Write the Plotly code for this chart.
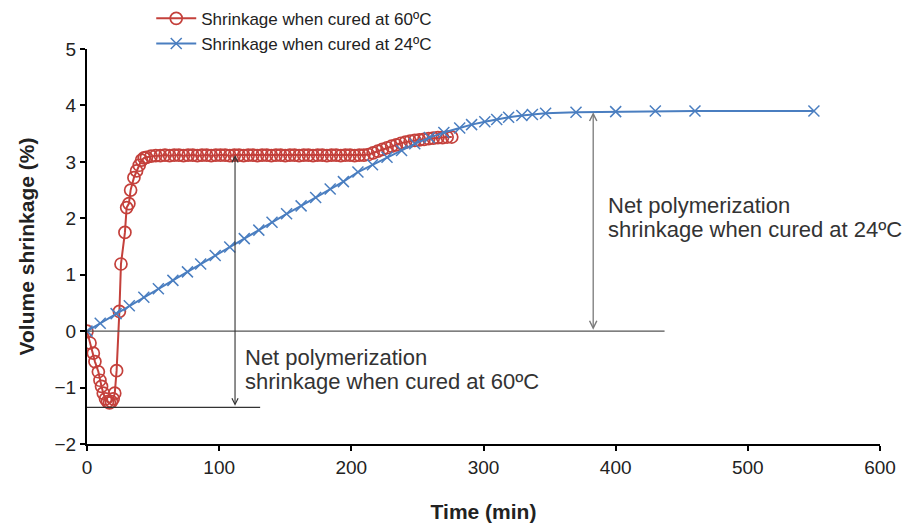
import plotly.graph_objects as go

# Shrinkage cured at 60 ºC (time in min, volume shrinkage in %)
t_60 = [0, 2.3, 4.8, 6.0, 8.6, 9.8, 11.0, 12.3, 14.0, 15.5, 17.0, 18.5, 19.8, 21.0,
        22.4, 24.5, 25.7, 28.7, 30.0, 31.7, 33.0, 35.5, 37.5, 39.5, 41.3, 43.2,
        45.0, 48.5, 52.0, 55.5, 59.0, 62.5, 66.0, 69.5, 73.0, 76.5, 80.0, 83.5,
        87.0, 90.5, 94.0, 97.5, 101.0, 104.5, 108.0, 111.5, 115.0, 118.5, 122.0,
        125.5, 129.0, 132.5, 136.0, 139.5, 143.0, 146.5, 150.0, 153.5, 157.0,
        160.5, 164.0, 167.5, 171.0, 174.5, 178.0, 181.5, 185.0, 188.5, 192.0,
        195.5, 199.0, 202.5, 206.0, 209.5, 213.0, 216.5, 220.0, 223.5, 227.0,
        230.5, 234.0, 237.5, 241.0, 244.5, 248.0, 251.5, 255.0, 258.5, 262.0,
        265.5, 269.0, 272.5, 276.0]
s_60 = [0.00, -0.21, -0.39, -0.54, -0.72, -0.87, -0.98, -1.10, -1.20, -1.25, -1.27,
        -1.25, -1.20, -1.10, -0.70, 0.35, 1.19, 1.75, 2.19, 2.26, 2.50, 2.72, 2.84,
        2.94, 3.03, 3.07,
        3.08, 3.10, 3.11, 3.11, 3.12, 3.11, 3.12, 3.12, 3.11, 3.12, 3.12, 3.11,
        3.12, 3.12, 3.11, 3.12, 3.12, 3.12, 3.11, 3.12, 3.12, 3.11, 3.12, 3.12,
        3.11, 3.12, 3.12, 3.11, 3.12, 3.12, 3.11, 3.12, 3.12, 3.11, 3.12, 3.12,
        3.11, 3.12, 3.12, 3.11, 3.12, 3.12, 3.11, 3.12, 3.12, 3.11, 3.12, 3.12,
        3.13, 3.16, 3.19, 3.22, 3.25, 3.28, 3.30, 3.33, 3.35, 3.37, 3.38, 3.39,
        3.40, 3.41, 3.42, 3.43, 3.43, 3.44, 3.44]

# Shrinkage cured at 24 ºC
t_24 = [0, 10, 22, 32, 43, 54, 65, 76, 86, 97, 108, 119, 130, 140, 151, 162, 173,
        184, 194, 205, 216, 227, 238, 248, 259, 270, 282, 291, 301, 310, 319, 329,
        337, 347, 370, 400, 430, 460, 550]
s_24 = [0.00, 0.14, 0.31, 0.45, 0.60, 0.75, 0.90, 1.05, 1.19, 1.34, 1.49, 1.64,
        1.79, 1.93, 2.08, 2.22, 2.37, 2.52, 2.65, 2.82, 2.95, 3.08, 3.20, 3.32,
        3.43, 3.52, 3.60, 3.66, 3.71, 3.75, 3.79, 3.82, 3.84, 3.86, 3.88, 3.89,
        3.90, 3.90, 3.90]

# Reference levels for the net-shrinkage arrows
base_60 = -1.35
plateau_60 = 3.12
plateau_24 = 3.88
arrow_t_60 = 112
arrow_t_24 = 383

label_60 = ["Net polymerization", "shrinkage when cured at 60ºC"]
label_24 = ["Net polymerization", "shrinkage when cured at 24ºC"]

RED = "#C4403B"
BLUE = "#4A7EC0"
FONT = "Liberation Sans, Arial, sans-serif"

fig = go.Figure()

fig.add_trace(go.Scatter(
    x=t_60, y=s_60, mode="lines+markers", name="Shrinkage when cured at 60ºC",
    line=dict(color=RED, width=2),
    marker=dict(symbol="circle-open", size=12, color=RED, line=dict(width=1.7)),
))
fig.add_trace(go.Scatter(
    x=t_24, y=s_24, mode="lines+markers", name="Shrinkage when cured at 24ºC",
    line=dict(color=BLUE, width=2),
    marker=dict(symbol="x-thin-open", size=11, color=BLUE, line=dict(width=1.5, color=BLUE)),
))

# Horizontal baselines
fig.add_shape(type="line", x0=0, x1=437, y0=0, y1=0, xref="x", yref="y",
              line=dict(color="#555555", width=1.2))
fig.add_shape(type="line", x0=0, x1=131, y0=base_60, y1=base_60, xref="x", yref="y",
              line=dict(color="#333333", width=1.2))

# Double-headed arrows
fig.add_annotation(x=arrow_t_60, y=plateau_60, ax=arrow_t_60, ay=base_60,
                   xref="x", yref="y", axref="x", ayref="y", text="",
                   showarrow=True, arrowhead=5, startarrowhead=5, arrowside="end+start",
                   arrowsize=1.1, startarrowsize=1.1, arrowwidth=1.1, arrowcolor="#333333")
fig.add_annotation(x=arrow_t_24, y=plateau_24, ax=arrow_t_24, ay=0,
                   xref="x", yref="y", axref="x", ayref="y", text="",
                   showarrow=True, arrowhead=5, startarrowhead=5, arrowside="end+start",
                   arrowsize=1.1, startarrowsize=1.1, arrowwidth=1.3, arrowcolor="#7a7a7a")

# Arrow labels, one line at a time
for txt, yy in zip(label_60, [-0.46, -0.885]):
    fig.add_annotation(x=118, y=yy, xref="x", yref="y", xanchor="left", yanchor="middle",
                       text=txt, showarrow=False,
                       font=dict(family=FONT, size=22, color="#333333"))
for txt, yy in zip(label_24, [2.23, 1.805]):
    fig.add_annotation(x=393, y=yy, xref="x", yref="y", xanchor="left", yanchor="middle",
                       text=txt, showarrow=False,
                       font=dict(family=FONT, size=22, color="#333333"))

fig.update_layout(
    width=904, height=529,
    margin=dict(l=87, r=24, t=49, b=85, autoexpand=False),
    paper_bgcolor="white", plot_bgcolor="white",
    font=dict(family=FONT, size=17, color="#222222"),
    showlegend=True,
    legend=dict(x=0.081, y=1.122, xanchor="left", yanchor="top",
                xref="paper", yref="paper",
                bgcolor="rgba(0,0,0,0)", font=dict(size=17, color="#222222"),
                itemwidth=40, tracegroupgap=4),
)

fig.update_xaxes(range=[0, 600], tickvals=[0, 100, 200, 300, 400, 500, 600],
                 showline=True, linecolor="black", linewidth=2,
                 ticks="outside", ticklen=5, tickcolor="black", tickwidth=1.5,
                 showgrid=False, zeroline=False,
                 tickfont=dict(size=19),
                 title=dict(text="<b>Time (min)</b>", font=dict(size=21), standoff=28))
fig.update_yaxes(range=[-2, 5], tickvals=[-2, -1, 0, 1, 2, 3, 4, 5],
                 showline=True, linecolor="black", linewidth=2,
                 ticks="outside", ticklen=5, tickcolor="black", tickwidth=1.5,
                 showgrid=False, zeroline=False,
                 tickfont=dict(size=19),
                 title=dict(text="<b>Volume shrinkage (%)</b>", font=dict(size=21), standoff=14))

fig.write_html("out.html")
